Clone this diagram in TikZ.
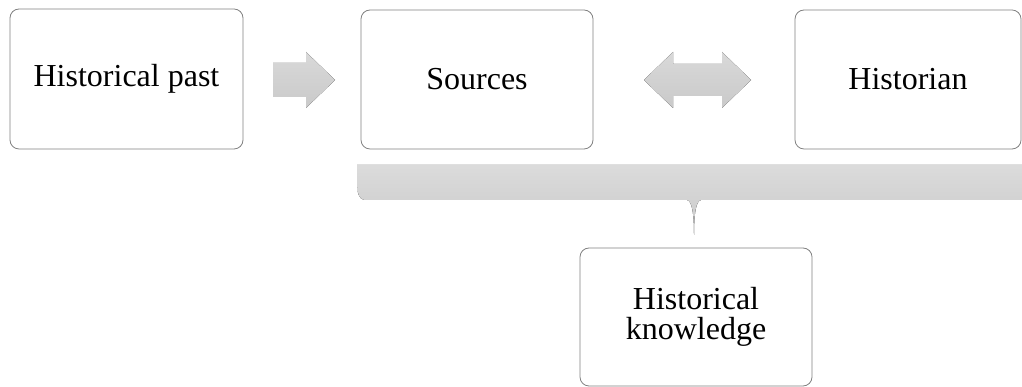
\documentclass[tikz,border=0pt]{standalone}
\usepackage{fontspec}
\setmainfont{Liberation Serif}
\definecolor{boxgray}{RGB}{128,128,128}

\begin{document}
\begin{tikzpicture}[x=1pt,y=1pt]
            \tikzstyle{every node}=[font=\fontsize{32}{30}\selectfont]
            \tikzstyle{stage}=[draw=boxgray, line width=0.8pt, rounded corners=9pt, align=center, inner sep=0pt]
            \tikzstyle{blockarrow}=[top color=black!15, bottom color=black!21, draw=none]
            \useasboundingbox (0,0) rectangle (1022,387);
            \node[stage, minimum width=233pt, minimum height=140pt] (past) at (126.5,308) {Historical past};
            \node[stage, minimum width=232pt, minimum height=139pt] (src) at (477,307.5) {Sources};
            \node[stage, minimum width=226pt, minimum height=139pt] (hist) at (908,307.5) {Historian};
            \node[stage, minimum width=232pt, minimum height=138pt] (know) at (696,70) {Historical\\knowledge};

            % block arrows between the stages
            \fill[blockarrow] (273,290) -- (306,290) -- (306,279) -- (335,307) -- (306,335) -- (306,324) -- (273,324) -- cycle;
            \fill[blockarrow] (644,307) -- (673,279) -- (673,291) -- (722,291) -- (722,279) -- (751,307)
                -- (722,335) -- (722,323) -- (673,323) -- (673,335) -- cycle;

            % bracket over sources and historian
            \fill[top color=black!14, bottom color=black!21] (357,222) -- (1030,222) -- (1030,187) -- (701,187)
                .. controls (696,186) and (694,174) .. (694,152)
                .. controls (694,174) and (692,186) .. (687,187) -- (364,187)
                .. controls (359,188) and (357,194) .. (357,205) -- cycle;
        \end{tikzpicture}
\end{document}
